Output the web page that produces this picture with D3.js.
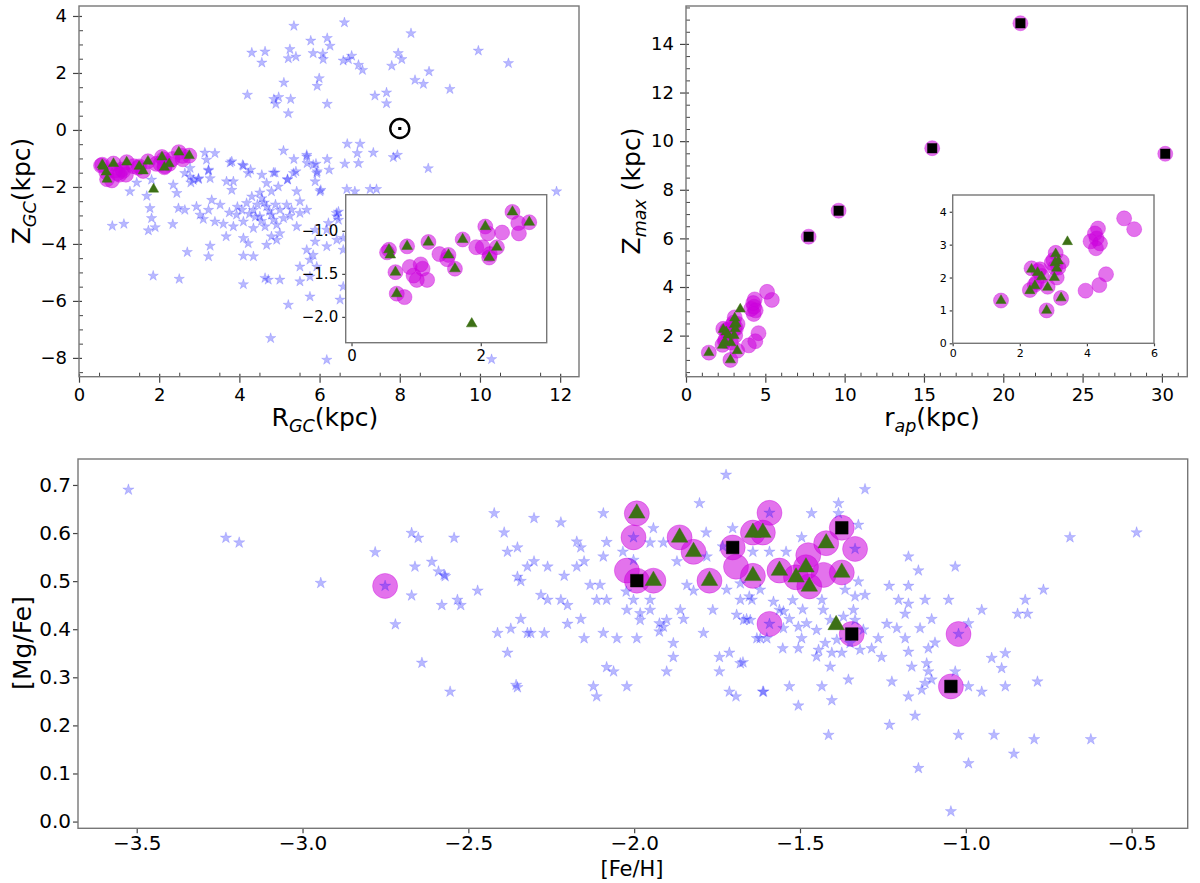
<!DOCTYPE html>
<html>
<head>
<meta charset="utf-8">
<script src="https://cdn.jsdelivr.net/npm/d3@7"></script>
<style>
  body { margin: 0; background: #fff; }
  svg { font-family: "DejaVu Sans", sans-serif; }
</style>
</head>
<body>
<svg id="fig" width="1200" height="883"></svg>
<script>
// ---- Panel (a): R_GC vs Z_GC -------------------------------------------
const rgcStars = [
  [5.36,3.65],[6.62,3.77],[8.28,3.39],[4.31,2.71],[4.64,2.75],[4.56,2.36],[5.26,2.83],[5.22,2.51],
  [5.41,2.57],[5.78,3.13],[6.19,3.22],[6.26,2.95],[5.84,2.69],[6.08,2.67],[6.09,2.48],[6.59,2.43],
  [6.72,2.48],[6.80,2.60],[6.97,2.28],[7.07,2.10],[7.80,2.25],[7.96,2.69],[8.05,2.48],[8.73,2.05],
  [8.38,1.75],[8.59,1.61],[9.25,1.43],[9.96,2.78],[10.71,2.34],[4.20,1.23],[5.11,1.66],[5.99,1.81],
  [5.94,1.54],[4.86,1.08],[4.98,1.15],[4.91,0.91],[5.28,1.08],[5.22,0.58],[6.19,0.91],[7.38,1.20],
  [7.67,1.31],[7.67,0.93],[6.69,-0.49],[7.01,-0.49],[6.94,-0.82],[6.97,-1.17],[7.34,-0.80],[7.84,-0.96],
  [7.94,-0.88],[8.71,-1.35],[6.63,-1.19],[6.24,-1.40],[6.19,-1.03],[5.10,-0.73],[5.36,-1.03],[5.68,-0.88],
  [5.69,-1.17],[5.91,-1.19],[5.41,-1.46],[5.94,-1.46],[5.89,-1.81],[6.03,-2.11],[4.89,-1.50],[5.20,-1.75],
  [4.08,-1.23],[4.28,-1.40],[3.81,-1.11],[6.68,-2.08],[6.88,-2.16],[7.26,-2.08],[7.42,-2.08],[11.91,-2.16],
  [3.39,-0.82],[3.14,-0.80],[3.77,-1.15],[3.85,-1.81],[2.77,-1.34],[2.64,-1.52],[2.85,-1.76],[2.79,-1.85],
  [2.98,-1.70],[3.23,-1.43],[3.27,-1.70],[2.35,-1.93],[2.44,-2.22],[1.81,-1.75],[1.69,-2.32],[1.44,-1.85],
  [1.27,-2.16],[4.10,-1.26],[4.22,-1.52],[0.83,-3.37],[1.12,-3.30],[1.77,-2.75],[1.81,-3.10],[1.90,-3.42],
  [1.73,-3.53],[1.85,-5.12],[2.48,-2.75],[2.64,-2.81],[2.34,-3.31],[2.70,-4.29],[2.50,-5.23],[2.93,-2.69],
  [3.02,-2.98],[3.31,-2.46],[3.52,-2.63],[3.23,-2.81],[3.10,-3.13],[3.27,-4.07],[3.23,-4.44],[3.67,-3.74],
  [3.68,-1.81],[3.81,-2.11],[3.39,-3.22],[3.60,-3.30],[3.85,-3.39],[3.93,-2.98],[4.06,-2.81],[4.18,-2.57],
  [4.31,-2.34],[4.35,-2.81],[4.10,-3.22],[4.35,-3.45],[4.10,-3.80],[4.22,-3.98],[4.35,-4.44],[4.10,-4.42],
  [4.10,-5.42],[4.56,-2.40],[4.68,-2.69],[4.51,-3.04],[4.80,-2.98],[4.64,-3.39],[4.93,-3.33],[5.01,-2.81],
  [5.18,-2.63],[5.26,-3.02],[5.43,-3.39],[5.01,-3.63],[4.80,-3.74],[4.68,-4.04],[4.93,-3.86],[4.85,-1.50],
  [4.97,-1.99],[5.20,-1.73],[5.35,-1.52],[5.43,-2.16],[5.51,-2.51],[4.64,-5.20],[4.72,-5.26],[5.01,-5.26],
  [5.51,-5.32],[5.22,-6.14],[4.78,-7.31],[5.68,-0.94],[5.84,-1.23],[5.93,-1.52],[5.68,-4.21],[5.84,-4.39],
  [5.76,-4.56],[5.93,-4.80],[6.18,-4.09],[5.89,-3.92],[5.51,-4.80],[5.76,-5.15],[5.76,-5.85],[6.18,-8.07],
  [6.01,-2.16],[6.43,-3.04],[6.43,-3.86],[6.18,-3.51],[5.89,-3.51],[5.68,-2.81],[5.51,-2.92],[6.47,-2.87],
  [6.22,-3.27],[4.56,-1.58],[4.68,-1.87],[4.80,-2.16],[4.51,-2.20],[3.18,-1.05],[3.23,-1.40],[2.98,-1.73],
  [2.77,-1.64],[6.42,-2.92],[6.47,-3.16],[6.59,-3.80],[6.59,-4.21],[6.51,-5.96],[6.59,-5.50],[10.29,-8.05],
  [4.45,-2.62],[4.62,-2.55],[4.75,-2.85],[4.40,-3.05],[4.90,-2.62],[5.10,-3.10],[4.25,-2.95],[3.95,-2.70],
  [4.55,-3.20],[5.30,-2.80],[3.75,-2.90],[4.85,-3.15]
];
const rgcCircles = [
  [0.58,-1.22],[0.55,-1.25],[0.86,-1.18],[1.19,-1.13],[0.68,-1.48],[0.70,-1.73],[0.82,-1.77],[0.90,-1.42],
  [1.07,-1.39],[1.10,-1.44],[0.96,-1.52],[1.01,-1.57],[1.17,-1.57],[1.36,-1.27],[1.50,-1.28],[1.48,-1.33],
  [1.60,-1.44],[1.72,-1.10],[1.93,-1.19],[2.07,-0.95],[2.11,-1.03],[2.33,-1.02],[2.03,-1.19],[2.14,-1.27],
  [2.13,-1.31],[2.25,-1.19],[2.49,-0.78],[2.58,-0.91],[2.59,-1.03],[2.75,-0.90]
];
const rgcTriangles = [
  [0.58,-1.22],[0.60,-1.28],[0.86,-1.18],[1.19,-1.13],[0.68,-1.48],[0.70,-1.73],[1.50,-1.28],[1.60,-1.44],
  [1.72,-1.10],[2.07,-0.95],[2.13,-1.31],[2.25,-1.19],[2.49,-0.78],[2.75,-0.90],[1.86,-2.08]
];
const sunPos = [8.0, 0.05];
const rgcTicks = [0, 2, 4, 6, 8, 10, 12];
const zgcTicks = [-8, -6, -4, -2, 0, 2, 4];
const rgcInsetTicks = [0, 2];
const zgcInsetTicks = [-2.0, -1.5, -1.0];

// ---- Panel (b): r_ap vs Z_max -------------------------------------------
const rapCircles = [
  [1.44,1.30],[2.35,2.28],[2.55,2.20],[2.30,1.62],[2.45,1.78],[2.65,2.05],[2.83,1.72],[2.80,1.00],
  [3.07,2.75],[3.00,2.53],[3.25,2.48],[3.05,2.30],[3.10,2.00],[2.95,2.45],[3.23,1.38],[3.96,1.60],
  [4.37,1.77],[4.57,2.10],[4.11,3.10],[4.29,3.19],[4.33,3.49],[4.27,2.89],[4.39,3.04],[4.24,3.34],
  [5.11,3.80],[5.41,3.47],[2.50,1.85],[2.60,2.25],[3.15,2.30]
];
const rapTriangles = [
  [1.44,1.30],[2.35,2.25],[2.53,2.15],[2.65,2.02],[2.30,1.60],[2.45,1.75],[2.83,1.70],[2.80,1.00],
  [3.07,2.72],[3.05,2.45],[3.10,2.28],[3.03,2.00],[3.23,1.38],[3.42,3.09],[3.15,2.50]
];
const rapSquares = [[7.73,6.07],[9.62,7.14],[15.52,9.71],[21.08,14.85],[30.21,9.48]];
const rapTicks = [0, 5, 10, 15, 20, 25, 30];
const zmaxTicks = [2, 4, 6, 8, 10, 12, 14];
const rapInsetTicks = [0, 2, 4, 6];
const zmaxInsetTicks = [0, 1, 2, 3, 4];

// ---- Panel (c): [Fe/H] vs [Mg/Fe] ---------------------------------------
const fehStars = [
  [-3.525,0.690],[-3.231,0.590],[-3.191,0.580],[-2.945,0.496],[-2.781,0.560],[-2.751,0.490],[-2.720,0.410],
  [-2.671,0.600],[-2.651,0.590],[-2.661,0.530],[-2.671,0.470],[-2.610,0.540],[-2.590,0.520],[-2.570,0.510],
  [-2.580,0.450],[-2.640,0.330],[-2.555,0.270],
  [-1.723,0.721],[-1.803,0.662],[-2.422,0.641],[-2.302,0.631],[-2.221,0.622],[-2.093,0.641],[-2.543,0.590],
  [-2.392,0.601],[-2.382,0.561],[-2.352,0.570],[-2.173,0.582],[-2.161,0.570],[-2.083,0.581],[-2.093,0.551],
  [-2.151,0.541],[-2.173,0.530],[-2.302,0.541],[-2.322,0.530],[-2.261,0.530],[-2.211,0.511],[-2.573,0.513],
  [-2.352,0.509],[-2.342,0.500],[-2.472,0.480],[-2.533,0.461],[-2.523,0.450],[-2.281,0.471],[-2.261,0.461],
  [-2.221,0.461],[-2.201,0.450],[-2.133,0.492],[-2.103,0.492],[-2.113,0.461],[-2.083,0.461],[-2.342,0.421],
  [-2.372,0.401],[-2.412,0.392],[-2.322,0.392],[-2.312,0.392],[-2.271,0.392],[-2.201,0.411],[-2.161,0.421],
  [-2.151,0.381],[-2.093,0.392],[-2.052,0.381],[-1.992,0.381],[-2.382,0.351],[-2.083,0.321],[-2.062,0.312],
  [-2.356,0.284],[-2.352,0.279],[-2.123,0.281],[-2.113,0.260],[-2.022,0.281],[-1.902,0.312],
  [-1.882,0.342],[-1.882,0.371],[-1.743,0.342],[-1.713,0.351],[-1.672,0.331],[-1.743,0.312],[-1.713,0.270],
  [-1.693,0.260],[-1.612,0.270],[-1.942,0.610],[-1.952,0.580],[-1.912,0.580],[-2.034,0.561],
  [-2.002,0.544],[-1.871,0.541],[-1.783,0.601],[-1.703,0.610],[-1.781,0.551],[-1.733,0.572],[-1.642,0.561],
  [-2.024,0.478],[-2.002,0.461],[-1.952,0.461],[-2.022,0.440],[-1.982,0.433],[-1.982,0.419],[-1.952,0.440],
  [-1.924,0.412],[-1.912,0.405],[-1.902,0.419],[-1.924,0.395],[-1.861,0.440],[-1.851,0.421],[-1.841,0.492],
  [-1.821,0.480],[-1.791,0.392],[-1.763,0.440],[-1.691,0.430],[-1.670,0.419],[-1.650,0.419],[-1.680,0.461],
  [-1.645,0.461],[-1.721,0.482],[-1.680,0.495],[-1.630,0.381],
  [-2.002,0.591],[-1.592,0.642],[-1.334,0.567],[-1.592,0.411],[-1.022,0.390],
  [-1.304,0.691],[-1.384,0.662],[-1.465,0.641],[-1.384,0.641],[-1.324,0.617],[-1.495,0.591],[-1.592,0.561],
  [-1.542,0.561],[-1.173,0.551],[-1.143,0.522],[-1.032,0.530],[-0.766,0.482],[-1.231,0.490],[-1.173,0.490],
  [-1.324,0.499],[-1.522,0.460],[-1.492,0.441],[-1.434,0.461],[-1.364,0.482],[-1.334,0.468],
  [-1.304,0.471],[-1.203,0.461],[-1.173,0.453],[-1.123,0.461],[-1.052,0.461],[-0.952,0.440],[-0.821,0.461],
  [-0.844,0.432],[-0.814,0.432],[-1.103,0.421],[-1.183,0.432],[-1.661,0.421],[-1.562,0.440],[-1.532,0.421],
  [-1.339,0.440],[-1.238,0.411],[-1.208,0.402],[-1.138,0.402],[-0.992,0.412],[-1.620,0.381],[-1.600,0.381],
  [-1.552,0.360],[-1.505,0.360],[-1.495,0.381],[-1.450,0.398],[-1.444,0.357],[-1.404,0.351],[-1.424,0.371],
  [-1.374,0.351],[-1.264,0.381],[-1.284,0.360],[-1.254,0.342],[-1.183,0.381],[-1.173,0.353],[-1.113,0.360],
  [-1.093,0.372],[-1.163,0.322],[-1.118,0.329],[-1.113,0.312],[-1.123,0.288],[-1.103,0.295],[-1.133,0.274],
  [-0.992,0.281],[-0.952,0.270],[-1.032,0.312],[-0.922,0.340],[-0.881,0.350],[-0.892,0.319],[-0.881,0.281],
  [-0.784,0.291],[-1.680,0.329],[-1.610,0.270],[-1.532,0.281],[-1.434,0.281],[-1.354,0.295],
  [-1.505,0.241],[-1.404,0.252],[-1.223,0.291],[-1.173,0.260],[-1.153,0.220],[-1.230,0.201],
  [-1.414,0.180],[-1.022,0.180],[-0.915,0.180],[-0.992,0.121],[-1.143,0.111],[-0.855,0.141],[-0.794,0.171],
  [-1.045,0.021],
  [-1.653,0.468],[-1.620,0.482],[-1.580,0.457],[-1.550,0.437],[-1.505,0.405],[-1.480,0.412],[-1.550,0.402],
  [-1.430,0.440],[-1.409,0.419],[-1.369,0.426],[-1.334,0.419],[-1.309,0.399],[-1.450,0.343],[-1.409,0.322],
  [-1.349,0.371],[-1.319,0.357],[-1.389,0.378],
  [-0.686,0.591],[-0.485,0.601],[-0.623,0.171]
];
const fehCircles = [
  [-2.751,0.490],[-1.992,0.641],[-2.002,0.591],[-2.022,0.522],[-1.992,0.501],[-1.942,0.501],[-1.863,0.591],
  [-1.821,0.561],[-1.773,0.501],[-1.703,0.570],[-1.693,0.530],[-1.642,0.511],[-1.642,0.601],[-1.612,0.601],
  [-1.592,0.642],[-1.374,0.611],[-1.421,0.579],[-1.334,0.567],[-1.562,0.522],[-1.475,0.554],[-1.482,0.529],
  [-1.512,0.508],[-1.429,0.513],[-1.472,0.489],[-1.374,0.518],[-1.592,0.411],[-1.344,0.390],[-1.022,0.390],
  [-1.045,0.281]
];
const fehTriangles = [
  [-1.992,0.641],[-1.942,0.501],[-1.863,0.591],[-1.821,0.561],[-1.773,0.501],[-1.642,0.511],[-1.642,0.601],
  [-1.612,0.601],[-1.421,0.579],[-1.562,0.522],[-1.482,0.529],[-1.512,0.508],[-1.472,0.489],[-1.374,0.518],
  [-1.391,0.409]
];
const fehSquares = [[-1.992,0.501],[-1.703,0.570],[-1.374,0.611],[-1.344,0.390],[-1.045,0.281]];
const fehTicks = [-3.5, -3.0, -2.5, -2.0, -1.5, -1.0, -0.5];
const mgfeTicks = [0.0, 0.1, 0.2, 0.3, 0.4, 0.5, 0.6, 0.7];

// ---- styles ----
const STAR = "#0000ff", CIRC = "#cc00dd", TRI = "#3d7016";
const SPINE = "#777";
const svg = d3.select("#fig");
const fmtInt = d3.format("d"), fmt1 = d3.format(".1f");

// ---- helpers ----
function drawAxes(g, x, y, o) {
  const [L, R] = x.range(), [B, T] = y.range();
  if (o.xMinor) {
    g.append("g").attr("transform", `translate(0,${B})`)
      .call(d3.axisBottom(x).tickValues(o.xMinor).tickSize(-o.minor).tickFormat(""))
      .call(s => s.select(".domain").remove())
      .selectAll("line").attr("stroke", "#444");
  }
  if (o.yMinor) {
    g.append("g").attr("transform", `translate(${L},0)`)
      .call(d3.axisLeft(y).tickValues(o.yMinor).tickSize(-o.minor).tickFormat(""))
      .call(s => s.select(".domain").remove())
      .selectAll("line").attr("stroke", "#444");
  }
  const gx = g.append("g").attr("transform", `translate(0,${B})`)
    .call(d3.axisBottom(x).tickValues(o.xTicks).tickSize(o.tick).tickPadding(o.xPad).tickFormat(o.xFmt));
  const gy = g.append("g").attr("transform", `translate(${L},0)`)
    .call(d3.axisLeft(y).tickValues(o.yTicks).tickSize(o.tick).tickPadding(o.yPad).tickFormat(o.yFmt));
  for (const a of [gx, gy]) {
    a.attr("font-family", "DejaVu Sans").attr("font-size", o.fs);
    a.select(".domain").remove();
    a.selectAll("line").attr("stroke", "#444").attr("stroke-width", 1.2);
    a.selectAll("text").attr("fill", "#000");
  }
  if (o.tickIn) {
    gx.selectAll(".tick line").attr("y1", -o.tickIn);
    gy.selectAll(".tick line").attr("x1", o.tickIn);
  }
  g.append("rect").attr("x", L).attr("y", T).attr("width", R - L).attr("height", B - T)
    .attr("fill", "none").attr("stroke", SPINE).attr("stroke-width", 1.4);
}

let clipId = 0;
function plotArea(g, x, y) {
  const [L, R] = x.range(), [B, T] = y.range();
  const id = "clip" + (clipId++);
  g.append("clipPath").attr("id", id).append("rect")
    .attr("x", L).attr("y", T).attr("width", R - L).attr("height", B - T);
  return g.append("g").attr("clip-path", `url(#${id})`);
}

function circles(p, x, y, data, r) {
  p.append("g").selectAll("circle").data(data).join("circle")
    .attr("cx", d => x(d[0])).attr("cy", d => y(d[1])).attr("r", r)
    .attr("fill", CIRC).attr("fill-opacity", 0.55)
    .attr("stroke", CIRC).attr("stroke-opacity", 0.35).attr("stroke-width", 1);
}
function symbols(p, x, y, data, type, size, fill, op) {
  p.append("g").selectAll("path").data(data).join("path")
    .attr("transform", d => `translate(${x(d[0])},${y(d[1])})`)
    .attr("d", d3.symbol(type, size))
    .attr("fill", fill).attr("fill-opacity", op)
    .attr("stroke", fill).attr("stroke-opacity", op * 0.8).attr("stroke-width", 0.6);
}

function subLabel(g, parts, fs, attrs) {
  const t = g.append("text").attr("font-size", fs).attr("text-anchor", "middle").attr("fill", "#000");
  for (const k in attrs) t.attr(k, attrs[k]);
  t.append("tspan").text(parts[0]);
  if (parts[1]) {
    t.append("tspan").attr("font-size", fs * 0.7).attr("font-style", "italic").attr("dy", fs * 0.22).text(parts[1]);
    t.append("tspan").attr("dy", -fs * 0.22).text(parts[2]);
  }
  return t;
}

// ================= Panel (a) =================
{
  const g = svg.append("g");
  const x = d3.scaleLinear().domain([0, 12.47]).range([79, 579]);
  const y = d3.scaleLinear().domain([-8.66, 4.35]).range([376.7, 6]);
  const p = plotArea(g, x, y);
  circles(p, x, y, rgcCircles, 7.5);
  symbols(p, x, y, rgcStars, d3.symbolStar, 34, STAR, 0.28);
  symbols(p, x, y, rgcTriangles, d3.symbolTriangle, 45, TRI, 1);
  // Sun symbol
  p.append("circle").attr("cx", x(sunPos[0])).attr("cy", y(sunPos[1])).attr("r", 9.5)
    .attr("fill", "none").attr("stroke", "#000").attr("stroke-width", 2.4);
  p.append("path").attr("transform", `translate(${x(sunPos[0])},${y(sunPos[1])})`)
    .attr("d", d3.symbol(d3.symbolSquare, 10)).attr("fill", "#000");
  drawAxes(g, x, y, {
    xTicks: rgcTicks, yTicks: zgcTicks, xFmt: fmtInt, yFmt: fmtInt,
    xMinor: d3.range(0.5, 12.5, 1), yMinor: d3.range(-8.5, 4.5, 0.5).filter(v => v % 2 !== 0),
    minor: 4, tick: 6, tickIn: 3, xPad: 5.5, yPad: 6, fs: 18
  });
  subLabel(g, ["R", "GC", "(kpc)"], 25, { x: 325, y: 426 });
  subLabel(g, ["Z", "GC", "(kpc)"], 25, { transform: "translate(30,191) rotate(-90)" });

  // inset
  const xi = d3.scaleLinear().domain([-0.09, 3.02]).range([345.7, 546.7]);
  const yi = d3.scaleLinear().domain([-2.30, -0.58]).range([342.7, 194.7]);
  g.append("rect").attr("x", 345.7).attr("y", 194.7).attr("width", 201).attr("height", 148).attr("fill", "#fff");
  const pi = plotArea(g, xi, yi);
  circles(pi, xi, yi, rgcCircles, 7.5);
  symbols(pi, xi, yi, rgcTriangles, d3.symbolTriangle, 50, TRI, 1);
  drawAxes(g, xi, yi, {
    xTicks: rgcInsetTicks, yTicks: zgcInsetTicks, xFmt: fmtInt, yFmt: fmt1,
    tick: 3.5, xPad: 4, yPad: 4, fs: 15
  });
}

// ================= Panel (b) =================
{
  const g = svg.append("g");
  const x = d3.scaleLinear().domain([0, 31.6]).range([686, 1187.3]);
  const y = d3.scaleLinear().domain([0.31, 15.56]).range([376.7, 6]);
  const p = plotArea(g, x, y);
  circles(p, x, y, rapCircles.concat(rapSquares), 7.5);
  symbols(p, x, y, rapTriangles, d3.symbolTriangle, 45, TRI, 1);
  symbols(p, x, y, rapSquares, d3.symbolSquare, 90, "#000", 1);
  drawAxes(g, x, y, {
    xTicks: rapTicks, yTicks: zmaxTicks, xFmt: fmtInt, yFmt: fmtInt,
    xMinor: d3.range(1, 32, 1).filter(v => v % 5 !== 0), yMinor: d3.range(0.5, 15.6, 0.5).filter(v => v % 2 !== 0),
    minor: 4, tick: 6, tickIn: 3, xPad: 5.5, yPad: 6, fs: 18
  });
  subLabel(g, ["r", "ap", "(kpc)"], 25, { x: 932, y: 426 });
  subLabel(g, ["Z", "max", " (kpc)"], 25, { transform: "translate(640,191) rotate(-90)" });

  // inset
  const xi = d3.scaleLinear().domain([0, 6]).range([952.7, 1154]);
  const yi = d3.scaleLinear().domain([0, 4.51]).range([343.3, 195]);
  g.append("rect").attr("x", 952.7).attr("y", 195).attr("width", 201.3).attr("height", 148.3).attr("fill", "#fff");
  const pi = plotArea(g, xi, yi);
  circles(pi, xi, yi, rapCircles, 7.5);
  symbols(pi, xi, yi, rapTriangles, d3.symbolTriangle, 45, TRI, 1);
  drawAxes(g, xi, yi, {
    xTicks: rapInsetTicks, yTicks: zmaxInsetTicks, xFmt: fmtInt, yFmt: fmtInt,
    tick: 3, xPad: 3, yPad: 3, fs: 11
  });
}

// ================= Panel (c) =================
{
  const g = svg.append("g");
  const x = d3.scaleLinear().domain([-3.677, -0.331]).range([78, 1187.7]);
  const y = d3.scaleLinear().domain([-0.014, 0.754]).range([828.3, 459]);
  const p = plotArea(g, x, y);
  circles(p, x, y, fehCircles, 12.5);
  symbols(p, x, y, fehStars, d3.symbolStar, 40, STAR, 0.28);
  symbols(p, x, y, fehTriangles, d3.symbolTriangle, 118, TRI, 1);
  symbols(p, x, y, fehSquares, d3.symbolSquare, 160, "#000", 1);
  drawAxes(g, x, y, {
    xTicks: fehTicks, yTicks: mgfeTicks, xFmt: fmt1, yFmt: fmt1,
    tick: 5, xPad: 3, yPad: 2, fs: 20
  });
  g.append("text").attr("x", 632).attr("y", 876).attr("text-anchor", "middle")
    .attr("font-size", 21).text("[Fe/H]");
  g.append("text").attr("transform", "translate(31,643) rotate(-90)").attr("text-anchor", "middle")
    .attr("font-size", 25).text("[Mg/Fe]");
}
</script>
</body>
</html>
